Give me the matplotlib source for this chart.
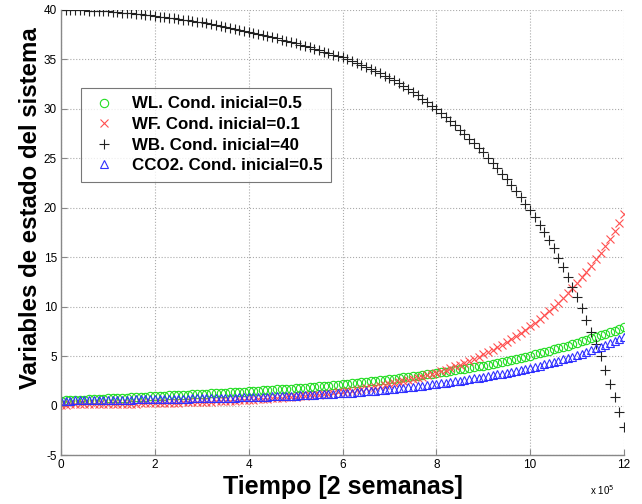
import numpy as np
import matplotlib
matplotlib.use("Agg")
import matplotlib.pyplot as plt

# time grid in units of 1e5 (2 semanas)
tiempo = np.linspace(0, 12, 121)

wl = [0.50,0.52,0.54,0.57,0.59,0.61,0.63,0.65,0.68,0.70,
      0.72,0.74,0.76,0.79,0.81,0.83,0.86,0.88,0.90,0.93,
      0.95,0.97,0.99,1.02,1.04,1.06,1.09,1.11,1.13,1.16,
      1.18,1.20,1.23,1.26,1.28,1.31,1.34,1.36,1.39,1.42,
      1.45,1.48,1.51,1.54,1.57,1.60,1.63,1.66,1.69,1.72,
      1.75,1.79,1.82,1.86,1.90,1.94,1.98,2.02,2.06,2.10,
      2.15,2.19,2.24,2.29,2.34,2.39,2.44,2.49,2.55,2.60,
      2.65,2.71,2.77,2.84,2.90,2.97,3.03,3.10,3.17,3.23,
      3.30,3.37,3.44,3.51,3.59,3.66,3.74,3.81,3.89,3.97,
      4.05,4.14,4.23,4.32,4.42,4.52,4.62,4.72,4.83,4.94,
      5.05,5.17,5.29,5.41,5.54,5.67,5.80,5.93,6.07,6.21,
      6.35,6.49,6.64,6.79,6.94,7.09,7.25,7.41,7.57,7.73,7.90]

wf = [0.100,0.104,0.109,0.114,0.119,0.124,0.130,0.136,0.142,0.148,
      0.155,0.162,0.169,0.177,0.185,0.193,0.202,0.211,0.220,0.230,
      0.240,0.251,0.262,0.274,0.286,0.299,0.312,0.326,0.341,0.356,
      0.372,0.389,0.406,0.425,0.444,0.464,0.484,0.506,0.529,0.552,
      0.577,0.603,0.630,0.658,0.688,0.718,0.751,0.784,0.819,0.856,
      0.894,0.935,0.976,1.020,1.066,1.114,1.163,1.216,1.270,1.327,
      1.387,1.449,1.514,1.581,1.652,1.726,1.803,1.884,1.969,2.057,
      2.149,2.245,2.346,2.451,2.561,2.676,2.795,2.921,3.051,3.188,
      3.331,3.480,3.636,3.799,3.969,4.147,4.333,4.527,4.729,4.941,
      5.163,5.394,5.636,5.888,6.152,6.427,6.715,7.016,7.330,7.658,
      8.003,8.361,8.736,9.127,9.536,9.963,10.41,10.88,11.36,11.87,
      12.40,12.96,13.54,14.15,14.78,15.44,16.15,16.88,17.65,18.50,19.40]

wb = [40.00,40.00,39.99,39.98,39.97,39.95,39.93,39.91,39.89,39.87,
      39.85,39.82,39.78,39.74,39.70,39.65,39.60,39.55,39.50,39.45,
      39.40,39.34,39.28,39.22,39.16,39.10,39.03,38.96,38.89,38.82,
      38.75,38.66,38.57,38.48,38.39,38.30,38.20,38.10,38.00,37.90,
      37.80,37.69,37.58,37.47,37.36,37.25,37.13,37.01,36.89,36.77,
      36.65,36.51,36.37,36.23,36.09,35.95,35.80,35.65,35.50,35.35,
      35.20,35.01,34.82,34.63,34.44,34.25,34.03,33.81,33.59,33.37,
      33.15,32.88,32.60,32.32,32.04,31.75,31.40,31.04,30.68,30.32,
      29.95,29.56,29.16,28.75,28.33,27.90,27.45,26.99,26.53,26.07,
      25.60,25.07,24.54,24.00,23.45,22.90,22.29,21.68,21.06,20.43,
      19.80,19.05,18.29,17.51,16.71,15.90,14.95,13.99,13.01,12.01,
      11.00,9.83,8.64,7.43,6.21,5.00,3.62,2.23,0.82,-0.69,-2.20]

cco2 = [0.50,0.51,0.51,0.52,0.53,0.53,0.54,0.55,0.55,0.56,
        0.57,0.58,0.59,0.59,0.60,0.61,0.62,0.63,0.63,0.64,
        0.65,0.66,0.67,0.68,0.69,0.69,0.70,0.71,0.72,0.73,
        0.74,0.75,0.76,0.77,0.78,0.79,0.80,0.81,0.83,0.84,
        0.85,0.86,0.88,0.89,0.91,0.92,0.94,0.95,0.97,0.98,
        1.00,1.02,1.04,1.07,1.09,1.12,1.14,1.17,1.19,1.22,
        1.25,1.28,1.32,1.35,1.39,1.43,1.47,1.51,1.56,1.60,
        1.65,1.70,1.75,1.80,1.85,1.91,1.97,2.02,2.08,2.14,
        2.20,2.26,2.33,2.40,2.46,2.53,2.60,2.68,2.75,2.82,
        2.90,2.98,3.07,3.15,3.24,3.33,3.42,3.51,3.61,3.70,
        3.80,3.92,4.04,4.16,4.28,4.41,4.54,4.67,4.81,4.95,
        5.10,5.26,5.43,5.60,5.77,5.95,6.13,6.33,6.53,6.74,6.95]

labels = ["WL. Cond. inicial=0.5", "WF. Cond. inicial=0.1",
          "WB. Cond. inicial=40", "CCO2. Cond. inicial=0.5"]
xticks = [0, 2, 4, 6, 8, 10, 12]
yticks = [-5, 0, 5, 10, 15, 20, 25, 30, 35, 40]

plt.rcParams['font.family'] = ['Liberation Sans', 'DejaVu Sans']

fig = plt.figure(figsize=(6.42, 5.04), dpi=100)
ax = fig.add_axes([61/642, 1-455/504, (624-61)/642, (455-10)/504])

ms = 6
ax.plot(tiempo, wl, linestyle='none', marker='o', ms=ms, mfc='none',
        mec='#22dd22', mew=0.8, label=labels[0])
ax.plot(tiempo, wf, linestyle='none', marker='x', ms=ms, mec='#ff5050',
        mew=0.8, label=labels[1])
ax.plot(tiempo, wb, linestyle='none', marker='+', ms=ms+1, mec='#222222',
        mew=0.8, label=labels[2])
ax.plot(tiempo, cco2, linestyle='none', marker='^', ms=ms, mfc='none',
        mec='#3030ff', mew=0.8, label=labels[3])

ax.set_xlim(0, 12)
ax.set_ylim(-5, 40)
ax.set_xticks(xticks)
ax.set_yticks(yticks)
ax.set_xticklabels([str(t) for t in xticks], fontsize=8.5)
ax.set_yticklabels([str(t) for t in yticks], fontsize=8.5)
ax.tick_params(direction='in', length=4, width=0.8, color='#888888', pad=3)
ax.grid(True, linestyle=':', color='#aaaaaa', linewidth=0.8)
for s in ['top', 'right']:
    ax.spines[s].set_visible(False)
for s in ['left', 'bottom']:
    ax.spines[s].set_color('#888888')
    ax.spines[s].set_linewidth(1.0)

ax.set_xlabel("Tiempo [2 semanas]", fontsize=18, fontweight='bold', labelpad=3)
ax.set_ylabel("Variables de estado del sistema", fontsize=17.3, fontweight='bold', labelpad=2)
ax.yaxis.set_label_coords(-0.034, 0.555)
fig.text(590/642, 1-490/504, r"x 10$^5$", fontsize=7, ha='left', va='center')

leg = ax.legend(loc='upper left', bbox_to_anchor=((81-61)/563, (455-88)/445),
                prop={'weight': 'bold', 'size': 12.2}, frameon=True, fancybox=False,
                edgecolor='#555555', borderpad=0.5, labelspacing=0.33,
                handletextpad=0.8, handlelength=1.7, borderaxespad=0)
leg.get_frame().set_linewidth(0.8)

fig.savefig("out.png", dpi=100)
